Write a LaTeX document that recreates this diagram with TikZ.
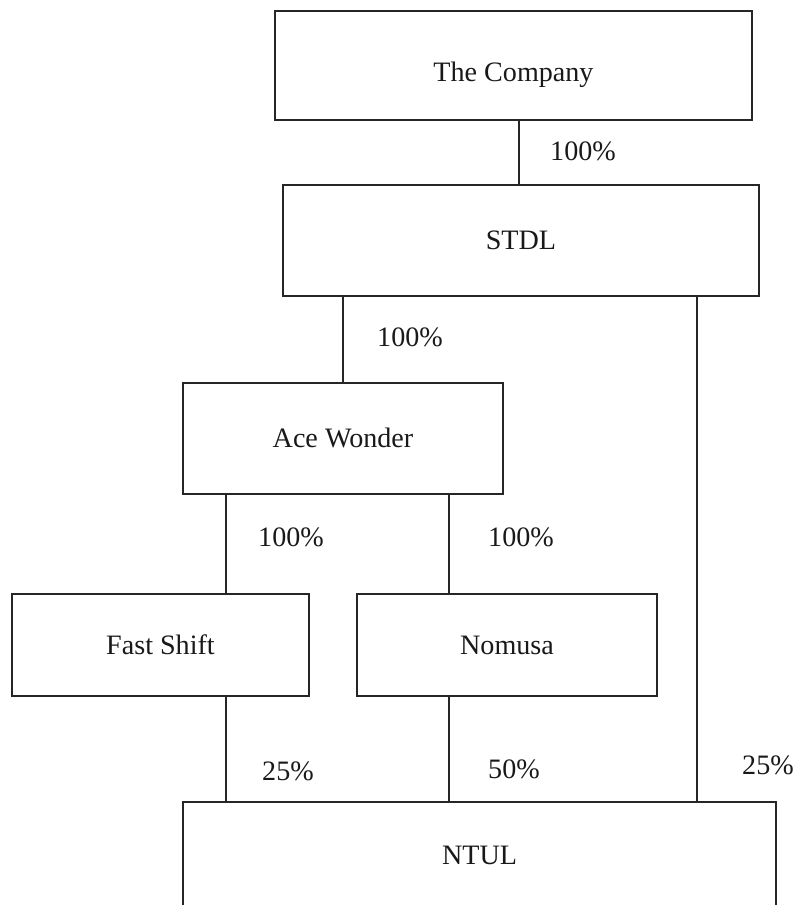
\documentclass[tikz,border=0pt]{standalone}
\usepackage{fontspec}
\setmainfont{Liberation Serif}
\usepackage{tikz}
\usetikzlibrary{calc}
\tikzset{
	entity/.style={draw=black!85, line width=0.8pt, rectangle, inner sep=0pt, outer sep=0pt,
		font=\fontsize{16}{19}\selectfont, text=black!90, text height=10.6pt, text depth=0pt},
	share/.style={font=\fontsize{16}{19}\selectfont, text=black!90, inner sep=0pt,
		text height=10.6pt, text depth=0pt},
	link/.style={draw=black!85, line width=0.8pt}
}

\begin{document}
\begin{tikzpicture}[x=0.02cm, y=-0.02cm]
		%%%%% START %%%%%
		\useasboundingbox (0, 0) rectangle (798, 905);
		
		\node[entity, minimum width=9.54cm, minimum height=2.18cm, text height=18.5pt] (company) at (513.5, 65.5) {The Company};
		\node[entity, minimum width=9.52cm, minimum height=2.22cm] (stdl) at (521, 240.5) {STDL};
		\node[entity, minimum width=6.4cm, minimum height=2.22cm] (ace) at (343, 438.5) {Ace Wonder};
		\node[entity, minimum width=5.94cm, minimum height=2.04cm] (fast) at (160.5, 645) {Fast Shift};
		\node[entity, minimum width=6.0cm, minimum height=2.04cm] (nomusa) at (507, 645) {Nomusa};
		\node[entity, minimum width=11.86cm, minimum height=2.12cm] (ntul) at (479.5, 855) {NTUL};
		
		% columns of the connectors
		\coordinate (colA) at (519, 0);
		\coordinate (colB) at (226, 0);
		\coordinate (colC) at (449, 0);
		\coordinate (colD) at (697, 0);
		
		\draw[link] (company.south -| colA) -- (stdl.north -| colA);
		\draw[link] (stdl.south -| ace.north) -- (ace.north);
		\draw[link] (stdl.south -| colD) -- (ntul.north -| colD);
		\draw[link] (ace.south -| colB) -- (fast.north -| colB);
		\draw[link] (ace.south -| colC) -- (nomusa.north -| colC);
		\draw[link] (fast.south -| colB) -- (ntul.north -| colB);
		\draw[link] (nomusa.south -| colC) -- (ntul.north -| colC);
		
		\node[share] (shareA) at (583, 151) {100\%};
		\node[share] (shareB) at (410, 337) {100\%};
		\node[share] (shareC) at (291, 537) {100\%};
		\node[share] (shareD) at (521, 537) {100\%};
		\node[share] (shareE) at (288, 771) {25\%};
		\node[share] (shareF) at (514, 769) {50\%};
		\node[share] (shareG) at (768, 765) {25\%};
		%%%%% END %%%%%
	\end{tikzpicture}
\end{document}
